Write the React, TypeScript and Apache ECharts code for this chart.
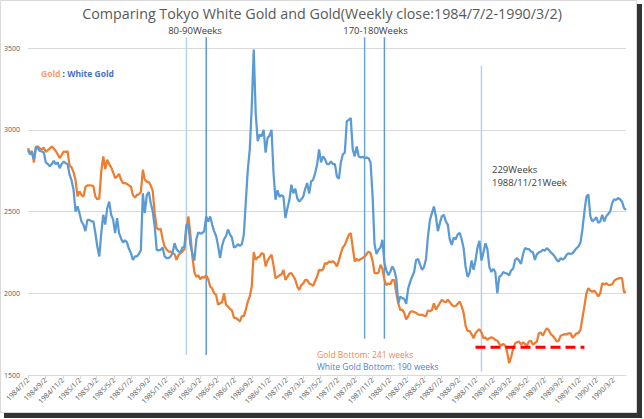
import React, { useEffect, useRef } from 'react';
import * as echarts from 'echarts';

const chartTitle = 'Comparing Tokyo White Gold and Gold(Weekly close:1984/7/2-1990/3/2)';
const startDate = '1984/7/2';

const tickLabels = [
  '1984/7/2', '1984/9/2', '1984/11/2',
  '1985/1/2', '1985/3/2', '1985/5/2', '1985/7/2', '1985/9/2', '1985/11/2',
  '1986/1/2', '1986/3/2', '1986/5/2', '1986/7/2', '1986/9/2', '1986/11/2',
  '1987/1/2', '1987/3/2', '1987/5/2', '1987/7/2', '1987/9/2', '1987/11/2',
  '1988/1/2', '1988/3/2', '1988/5/2', '1988/7/2', '1988/9/2', '1988/11/2',
  '1989/1/2', '1989/3/2', '1989/5/2', '1989/7/2', '1989/9/2', '1989/11/2',
  '1990/1/2', '1990/3/2',
];

// weekly closes, week 0 = 1984/7/2
const gold = [
  2888, 2857, 2870, 2800, 2894, 2898, 2885, 2880, 2890, 2865,
  2875, 2885, 2898, 2885, 2870, 2850, 2827, 2845, 2867, 2865,
  2868, 2780, 2770, 2740, 2694, 2592, 2623, 2600, 2592, 2650,
  2660, 2660, 2659, 2655, 2592, 2575, 2580, 2745, 2837, 2760,
  2817, 2790, 2770, 2740, 2704, 2715, 2730, 2694, 2674, 2674,
  2668, 2660, 2650, 2600, 2585, 2602, 2605, 2620, 2755, 2694,
  2683, 2680, 2660, 2625, 2490, 2398, 2390, 2395, 2330, 2286,
  2268, 2255, 2255, 2245, 2240, 2204, 2235, 2245, 2255, 2270,
  2390, 2470, 2360, 2225, 2130, 2100, 2110, 2085, 2100, 2095,
  2110, 2085, 2041, 2030, 2000, 1990, 1930, 1939, 1945, 2000,
  1930, 1919, 1905, 1895, 1850, 1850, 1840, 1827, 1860, 1860,
  1900, 1950, 1980, 2041, 2250, 2205, 2220, 2225, 2245, 2240,
  2164, 2200, 2220, 2235, 2170, 2092, 2100, 2110, 2115, 2143,
  2082, 2100, 2120, 2123, 2105, 2082, 2041, 2021, 2050, 2060,
  2082, 2080, 2060, 2055, 2045, 2075, 2102, 2143, 2140, 2145,
  2184, 2180, 2194, 2190, 2196, 2184, 2164, 2200, 2245, 2280,
  2296, 2327, 2357, 2368, 2280, 2194, 2210, 2200, 2210, 2215,
  2225, 2240, 2255, 2245, 2200, 2123, 2123, 2125, 2174, 2150,
  2082, 2050, 2060, 2055, 2082, 2080, 2000, 1939, 1898, 1900,
  1880, 1840, 1860, 1885, 1890, 1885, 1880, 1870, 1868, 1868,
  1862, 1860, 1895, 1890, 1898, 1939, 1900, 1920, 1940, 1960,
  1950, 1945, 1960, 1945, 1929, 1920, 1922, 1935, 1950, 1920,
  1880, 1800, 1770, 1770, 1750, 1725, 1755, 1770, 1780, 1760,
  1725, 1730, 1715, 1725, 1730, 1725, 1715, 1710, 1690, 1680,
  1690, 1680, 1640, 1572, 1610, 1660, 1694, 1700, 1705, 1685,
  1700, 1690, 1680, 1705, 1710, 1685, 1695, 1705, 1755, 1760,
  1740, 1766, 1786, 1775, 1750, 1740, 1725, 1705, 1710, 1740,
  1745, 1750, 1748, 1755, 1755, 1728, 1740, 1755, 1756, 1776,
  1850, 1920, 2000, 2031, 2015, 2010, 2015, 2000, 1980, 2000,
  2062, 2052, 2062, 2052, 2050, 2055, 2075, 2085, 2090, 2092,
  2092, 2005, 2010,
];

const whiteGold = [
  2875, 2850, 2860, 2820, 2895, 2888, 2870, 2867, 2860, 2800,
  2790, 2776, 2790, 2810, 2790, 2800, 2765, 2790, 2806, 2795,
  2790, 2725, 2690, 2633, 2500, 2531, 2490, 2439, 2419, 2380,
  2449, 2449, 2440, 2440, 2370, 2286, 2225, 2368, 2480, 2420,
  2520, 2560, 2480, 2450, 2368, 2460, 2368, 2335, 2310, 2325,
  2310, 2270, 2245, 2204, 2225, 2225, 2240, 2265, 2612, 2490,
  2600, 2620, 2551, 2500, 2408, 2265, 2262, 2266, 2280, 2225,
  2215, 2215, 2225, 2245, 2306, 2270, 2255, 2250, 2280, 2285,
  2420, 2419, 2300, 2245, 2200, 2330, 2372, 2365, 2368, 2380,
  2470, 2439, 2470, 2420, 2380, 2350, 2290, 2215, 2290, 2330,
  2350, 2390, 2360, 2340, 2280, 2285, 2300, 2290, 2300, 2360,
  2560, 2755, 2880, 3143, 3490, 3100, 2930, 2970, 2960, 3000,
  2860, 2950, 2965, 3000, 2735, 2572, 2630, 2590, 2600, 2592,
  2460, 2520, 2570, 2664, 2612, 2640, 2580, 2561, 2575, 2590,
  2640, 2674, 2610, 2684, 2694, 2735, 2786, 2880, 2800, 2837,
  2820, 2790, 2790, 2806, 2790, 2790, 2714, 2700, 2800, 2850,
  2860, 3051, 3061, 3071, 2880, 2837, 2898, 2837, 2830, 2835,
  2827, 2830, 2825, 2800, 2600, 2300, 2240, 2266, 2280, 2327,
  2184, 2140, 2110, 2133, 2164, 2140, 2090, 1939, 1980, 1970,
  1965, 1935, 2030, 2070, 2102, 2130, 2204, 2210, 2175, 2143,
  2160, 2210, 2350, 2449, 2490, 2530, 2470, 2380, 2429, 2470,
  2480, 2440, 2420, 2330, 2296, 2340, 2330, 2360, 2370, 2330,
  2276, 2160, 2100, 2125, 2200, 2143, 2200, 2280, 2320, 2200,
  2250, 2306, 2270, 2160, 2130, 2150, 2130, 2000, 2100, 2110,
  2130, 2123, 2120, 2110, 2140, 2150, 2204, 2215, 2200, 2180,
  2240, 2276, 2270, 2270, 2255, 2250, 2204, 2240, 2250, 2255,
  2266, 2260, 2276, 2266, 2250, 2240, 2225, 2204, 2194, 2215,
  2205, 2215, 2235, 2245, 2240, 2245, 2260, 2275, 2286, 2310,
  2390, 2500, 2590, 2605, 2470, 2439, 2450, 2465, 2430, 2440,
  2480, 2440, 2470, 2485, 2500, 2551, 2575, 2570, 2582, 2575,
  2560, 2521, 2510,
];

// annotation lines (in weeks from start, values in price units)
const markerWeeks = [80, 90, 170, 180, 229];
const markerTop = [3565, 3565, 3565, 3565, 3392];
const markerBottom = [1623, 1623, 1721, 1721, 1520];
const markerColors = ['#b7d2ec', '#5b9bd5', '#6fa6da', '#5b9bd5', '#b7d2ec'];
const bottomLineWeeks = [226, 281];
const bottomLineValue = 1670;

const DAY = 86400000;
const parseDate = (s: string) => {
  const [y, m, d] = s.split('/').map(Number);
  return Date.UTC(y, m - 1, d);
};
const START = parseDate(startDate);
const weekTime = (w: number) => START + w * 7 * DAY;
const tickValues = tickLabels.map(parseDate);
const labelMap = new Map<number, string>();
tickValues.forEach((t, i) => labelMap.set(t, tickLabels[i]));

const FONT = "'Open Sans', sans-serif";

export default function App() {
  const ref = useRef<HTMLDivElement>(null);
  useEffect(() => {
    const chart = echarts.init(ref.current!, null, { renderer: 'svg' });
    const markerSeries = markerWeeks.map((w, i) => ({
      type: 'line',
      silent: true,
      clip: false,
      symbol: 'none',
      z: 1,
      lineStyle: { color: markerColors[i], width: 1.5 },
      data: [[weekTime(w), markerTop[i]], [weekTime(w), markerBottom[i]]],
    }));
    const option: any = {
      animation: false,
      backgroundColor: 'transparent',
      title: {
        text: chartTitle,
        left: 'center',
        top: 5,
        padding: 0,
        textStyle: { fontFamily: FONT, fontSize: 14.3, fontWeight: 'normal', color: '#595959', lineHeight: 17 },
      },
      grid: { left: 28, right: 18, top: 48, bottom: 44, containLabel: false, outerBoundsMode: 'none' },
      xAxis: {
        type: 'value',
        min: START,
        max: weekTime(gold.length - 1),
        splitLine: { show: false },
        axisLine: { lineStyle: { color: '#d9d9d9' } },
        axisTick: { show: true, customValues: tickValues, length: 4, lineStyle: { color: '#d9d9d9' } },
        axisLabel: {
          customValues: tickValues,
          rotate: 45,
          margin: 4,
          fontSize: 7,
          fontFamily: FONT,
          color: '#595959',
          formatter: (v: number) => labelMap.get(v) ?? '',
        },
      },
      yAxis: {
        type: 'value',
        min: 1500,
        max: 3500,
        interval: 500,
        axisLine: { show: false },
        axisTick: { show: false },
        axisLabel: { fontSize: 7, fontFamily: FONT, color: '#595959', margin: 8, formatter: (v: number) => String(v) },
        splitLine: { lineStyle: { color: '#d9d9d9', width: 1 } },
      },
      series: [
        ...markerSeries,
        {
          name: 'Gold',
          type: 'line',
          symbol: 'none',
          z: 3,
          lineStyle: { color: '#ed7d31', width: 2.25 },
          data: gold.map((v, i) => [weekTime(i), v]),
        },
        {
          name: 'White Gold',
          type: 'line',
          symbol: 'none',
          z: 4,
          lineStyle: { color: '#5b9bd5', width: 2.25 },
          data: whiteGold.map((v, i) => [weekTime(i), v]),
        },
        {
          name: 'Bottom',
          type: 'line',
          symbol: 'none',
          silent: true,
          z: 5,
          lineStyle: { color: '#ff0000', width: 3, type: [10, 5] },
          data: bottomLineWeeks.map((w) => [weekTime(w), bottomLineValue]),
        },
      ],
      graphic: [
        { type: 'rect', z: -100, shape: { x: 4, y: 4, width: 638, height: 414 }, style: { fill: '#333333' } },
        { type: 'rect', z: -90, shape: { x: 0.5, y: 0.5, width: 636, height: 412 }, style: { fill: '#ffffff', stroke: '#d9d9d9', lineWidth: 1 } },
        { type: 'text', x: 195, y: 30, style: { text: '80-90Weeks', fontSize: 9.5, fontFamily: FONT, fill: '#404040', align: 'center', verticalAlign: 'middle' } },
        { type: 'text', x: 375.5, y: 30, style: { text: '170-180Weeks', fontSize: 9.5, fontFamily: FONT, fill: '#404040', align: 'center', verticalAlign: 'middle' } },
        { type: 'text', x: 492, y: 169, style: { text: '229Weeks', fontSize: 9.5, fontFamily: FONT, fill: '#404040', align: 'left', verticalAlign: 'middle' } },
        { type: 'text', x: 492, y: 182, style: { text: '1988/11/21Week', fontSize: 9.5, fontFamily: FONT, fill: '#404040', align: 'left', verticalAlign: 'middle' } },
        {
          type: 'text', x: 41, y: 73,
          style: {
            text: '{g|Gold} {c|:} {w|White Gold}',
            fontFamily: FONT, fontSize: 8.5, align: 'left', verticalAlign: 'middle',
            rich: {
              g: { fill: '#f4a06b', fontSize: 8.5, fontFamily: FONT, fontWeight: 'bold' },
              c: { fill: '#404040', fontSize: 8.5, fontFamily: FONT, fontWeight: 'bold' },
              w: { fill: '#4472c4', fontSize: 8.5, fontFamily: FONT, fontWeight: 'bold' },
            },
          },
        },
        { type: 'text', x: 317, y: 354, style: { text: 'Gold Bottom: 241 weeks', fontSize: 8.5, fontFamily: FONT, fill: '#f08a4b', align: 'left', verticalAlign: 'middle' } },
        { type: 'text', x: 317, y: 366, style: { text: 'White Gold Bottom: 190 weeks', fontSize: 8.5, fontFamily: FONT, fill: '#4f7fd0', align: 'left', verticalAlign: 'middle' } },
      ],
    };
    chart.setOption(option);
    return () => chart.dispose();
  }, []);
  return (
    <div
      ref={ref}
      style={{ position: 'fixed', left: 0, top: 0, width: 644, height: 419, background: '#ffffff' }}
    />
  );
}
